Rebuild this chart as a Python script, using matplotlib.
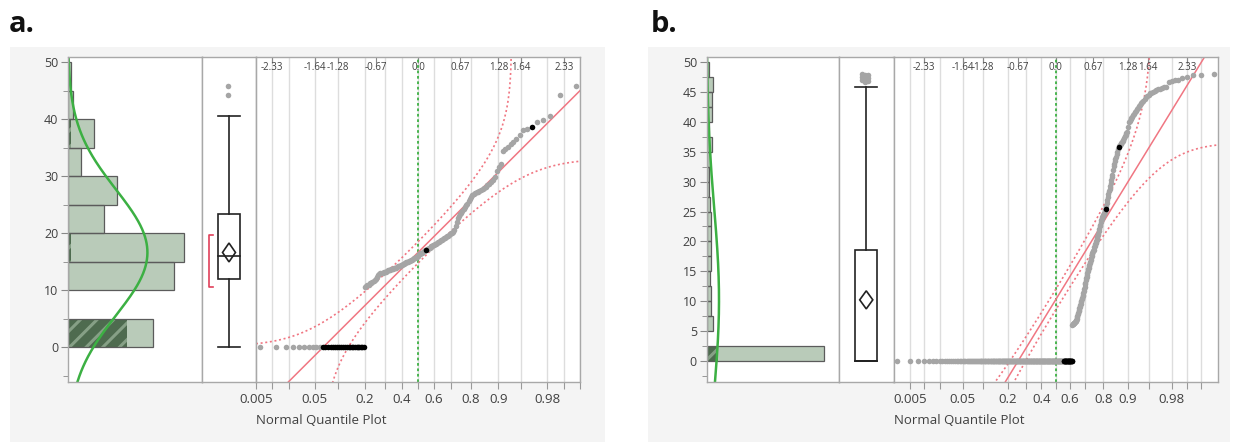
import matplotlib
matplotlib.use("Agg")
import matplotlib.pyplot as plt
from matplotlib.patches import Rectangle, Polygon
from statistics import NormalDist
import numpy as np

plt.rcParams["font.family"] = ["Open Sans", "DejaVu Sans"]
plt.rcParams["hatch.linewidth"] = 2.2

ND = NormalDist()

# ---- data ----------------------------------------------------------------
# panel a: 170 observations, 33 zeros then the sorted non-zero values
a_zero_count = 33
a_values_nonzero = [
    10.6, 10.7, 10.9, 11.0, 11.2, 11.3, 11.5, 11.6, 11.8, 12.0, 12.3, 12.6, 12.9,
    13.0, 13.1, 13.1, 13.2, 13.3, 13.3, 13.4, 13.5, 13.5, 13.6,
    13.7, 13.8, 13.8, 13.9, 14.0, 14.0, 14.1, 14.2, 14.3, 14.3, 14.4, 14.5, 14.6, 14.7,
    14.8, 14.8, 14.9, 14.9,
    15.0, 15.1, 15.2, 15.3, 15.4, 15.5, 15.6, 15.7, 15.8, 15.9, 16.0,
    16.1, 16.3, 16.4, 16.5, 16.6, 16.8, 16.9, 17.0, 17.1,
    17.2, 17.3, 17.4, 17.5, 17.6, 17.7, 17.8, 17.9, 18.0, 18.1, 18.2,
    18.3, 18.4, 18.5, 18.6, 18.8, 18.9, 19.0, 19.1, 19.2, 19.3, 19.5, 19.6,
    19.7, 19.8, 20.0, 20.1, 20.3, 20.5,
    21.2, 21.9, 22.6,
    23.0, 23.4, 23.6, 23.9, 24.2,
    24.6, 24.9, 25.2, 25.6, 26.0, 26.4, 26.7,
    26.9, 27.0, 27.2, 27.3, 27.5, 27.6, 27.8, 27.9, 28.1,
    28.4, 28.7, 29.0, 29.3,
    29.8, 31.0, 31.6, 32.2,
    34.4, 34.8, 35.2,
    35.6, 36.0, 36.5,
    37.2, 38.1, 38.3, 38.7,
    39.6, 39.9, 40.5, 44.2, 45.8,
]
# ranks (1-based, sorted order) of the highlighted rows
a_selected_ranks = list(range(11, 34)) + [94, 165]

# panel b: 400 observations, 246 zeros then the sorted non-zero values
b_zero_count = 246
b_values_nonzero = [
    6.0, 6.1, 6.1, 6.2, 6.3, 6.3, 6.4, 6.5, 6.5, 6.6, 6.7, 6.8,
    7.0, 7.3, 7.5, 7.8, 8.0, 8.3, 8.5, 8.8, 9.0,
    9.3, 9.5, 9.8, 10.0, 10.3, 10.5, 10.8, 11.0, 11.3,
    11.6, 12.0, 12.4, 12.8, 13.1, 13.5, 13.8, 14.1,
    14.4, 14.7, 15.0, 15.3, 15.5, 15.8, 16.0, 16.3,
    16.6, 16.9, 17.2, 17.5, 17.8, 18.1, 18.3, 18.4,
    18.6, 19.0, 19.3, 19.6, 19.8, 20.1, 20.3, 20.6, 20.8, 21.1, 21.3,
    21.7, 22.1, 22.5, 22.8, 23.2, 23.6,
    23.8, 24.0, 24.2, 24.4, 24.6, 24.8, 25.0, 25.2, 25.4,
    25.9, 26.4, 26.9, 27.4, 28.0,
    28.4, 28.8, 29.3, 29.7,
    30.2, 30.7, 31.2, 31.9, 32.6,
    33.0, 33.4, 33.8, 34.2,
    34.6, 35.0, 35.4, 35.8,
    36.0, 36.2, 36.3, 36.5, 36.7, 36.8, 37.0,
    37.3, 37.6, 37.8, 38.1, 38.4,
    39.2, 40.0,
    40.2, 40.5, 40.7, 40.9, 41.1, 41.3,
    41.6, 41.8, 42.1, 42.3, 42.6, 42.8,
    43.1, 43.4, 43.6, 43.9, 44.2,
    44.4, 44.6, 44.8, 44.9, 45.1,
    45.2, 45.4, 45.5, 45.6, 45.7, 45.8, 45.8,
    46.7, 46.8, 47.0, 47.1,
    47.3, 47.5,
    47.9, 47.9, 48.0,
]
b_selected_ranks = list(range(224, 247)) + [326, 348]

a_bin_width = 5
b_bin_width = 2.5

prob_grid = [0.005, 0.01, 0.02, 0.05, 0.1, 0.2, 0.3, 0.4, 0.5, 0.6, 0.7,
             0.8, 0.9, 0.95, 0.98, 0.99, 0.995]
prob_labels = [0.005, 0.05, 0.2, 0.4, 0.6, 0.8, 0.9, 0.98]
z_tick_labels = ["-2.33", "-1.64", "-1.28", "-0.67", "0.0", "0.67", "1.28", "1.64", "2.33"]

# ---- styling ---------------------------------------------------------------
W, H = 1238, 442
BAR = "#b9cbb9"
BAR_SEL = "#4e6b4f"
HATCH = "#86a086"
GREEN = "#3cb043"
RED = "#f07682"
GRAY_PT = "#a5a5a5"
SPINE = "#a8a8a8"
TXT = "#404040"

fig = plt.figure(figsize=(W / 100, H / 100), dpi=100)


def px_axes(x0, x1, y0, y1):
    return fig.add_axes([x0 / W, 1 - y1 / H, (x1 - x0) / W, (y1 - y0) / H])


def style_spines(ax):
    for s in ax.spines.values():
        s.set_color(SPINE)
        s.set_linewidth(1)


def draw_panel(zero_count, nonzero, sel_ranks, bw, xs, y0, y1, ylim,
               major, minor, hist_max, zlim, label, label_x, bg):
    data = np.array([0.0] * zero_count + list(nonzero))
    n = len(data)
    sel = np.zeros(n, bool)
    sel[np.array(sel_ranks) - 1] = True
    mean = data.mean()
    sd = data.std(ddof=1)

    fig.patches.append(Rectangle((bg[0] / W, 0), (bg[1] - bg[0]) / W, 1 - 47 / H,
                                 transform=fig.transFigure, facecolor="#f4f4f4",
                                 edgecolor="none", zorder=-10))
    fig.text(label_x / W, 1 - 32 / H, label, fontsize=21, fontweight="bold",
             va="baseline", color="#111111")

    # histogram column
    axh = px_axes(xs[0], xs[1], y0, y1)
    edges = np.arange(0, 50 + bw / 2, bw)
    counts, _ = np.histogram(data, edges)
    counts_sel, _ = np.histogram(data[sel], edges)
    keep = counts > 0
    axh.barh(edges[:-1][keep], counts[keep], height=bw, align="edge",
             color=BAR, edgecolor="none")
    ks = counts_sel > 0
    axh.barh(edges[:-1][ks], counts_sel[ks], height=bw, align="edge",
             color=BAR_SEL, hatch="//", edgecolor=HATCH, linewidth=0)
    axh.barh(edges[:-1][keep], counts[keep], height=bw, align="edge",
             fill=False, edgecolor="#5b5b5b", linewidth=0.9)
    yy = np.linspace(ylim[0], ylim[1], 400)
    fit = NormalDist(mean, sd)
    axh.plot([n * bw * fit.pdf(v) for v in yy], yy, color=GREEN, lw=1.8)
    axh.set_xlim(0, hist_max)
    axh.set_ylim(ylim)
    axh.set_xticks([])
    axh.set_yticks(major)
    axh.set_yticks(minor, minor=True)
    axh.tick_params(axis="y", which="major", length=5, color="#888888",
                    labelsize=9, labelcolor=TXT, pad=2)
    axh.tick_params(axis="y", which="minor", length=3.5, color="#888888")
    style_spines(axh)

    # box plot column
    axb = px_axes(xs[1], xs[2], y0, y1)
    q1, med, q3 = np.percentile(data, [25, 50, 75], method="weibull")
    iqr = q3 - q1
    whi = data[data <= q3 + 1.5 * iqr].max()
    wlo = data[data >= q1 - 1.5 * iqr].min()
    fliers = data[(data > whi) | (data < wlo)]
    hw = 0.2
    kw = dict(color="#222222", lw=1.2)
    axb.plot([0.5, 0.5], [wlo, q1], **kw)
    axb.plot([0.5, 0.5], [q3, whi], **kw)
    axb.plot([0.5 - hw, 0.5 + hw], [wlo, wlo], **kw)
    axb.plot([0.5 - hw, 0.5 + hw], [whi, whi], **kw)
    axb.add_patch(Rectangle((0.5 - hw, q1), 2 * hw, q3 - q1, facecolor="white",
                            edgecolor="#222222", lw=1.2))
    axb.plot([0.5 - hw, 0.5 + hw], [med, med], **kw)
    ci = 1.96 * sd / np.sqrt(n)
    axb.add_patch(Polygon([(0.5 - 0.12, mean), (0.5, mean + ci), (0.5 + 0.12, mean),
                           (0.5, mean - ci)], closed=True, fill=False,
                          edgecolor="#222222", lw=1.2))
    k = len(fliers)
    jit = 0.07 * np.sin(np.arange(k) * 2.1) if k > 2 else np.zeros(k)
    axb.plot(0.48 + jit, fliers, "o", ms=4, color=GRAY_PT, mec="none")
    # shortest half bracket
    srt = np.sort(data)
    h = n // 2
    widths = srt[h - 1:] - srt[:n - h + 1]
    j = int(np.argmin(widths))
    lo, hi = srt[j], srt[j + h - 1]
    if hi > lo:
        axb.plot([0.2, 0.135, 0.135, 0.2], [lo, lo, hi, hi], color="#e0405a", lw=1.2)
    axb.set_xlim(0, 1)
    axb.set_ylim(ylim)
    axb.set_xticks([])
    axb.set_yticks([])
    style_spines(axb)

    # normal quantile column
    axq = px_axes(xs[2], xs[3], y0, y1)
    z = np.array([ND.inv_cdf(r / (n + 1)) for r in range(1, n + 1)])
    srt_idx = np.argsort(data, kind="stable")
    vals = data[srt_idx]
    for p in prob_grid:
        axq.axvline(ND.inv_cdf(p), color="#dddddd", lw=1, zorder=0)
    axq.axvline(0, color=GREEN, ls=(0, (1.5, 1.5)), lw=1.3, zorder=1)
    zz = np.linspace(zlim[0], zlim[1], 600)
    axq.plot(zz, mean + sd * zz, color=RED, lw=1.1, zorder=2)
    D = 0.886 / np.sqrt(n)
    pz = np.array([ND.cdf(v) for v in zz])
    up = pz + D < 1
    axq.plot(zz[up], [mean + sd * ND.inv_cdf(p + D) for p in pz[up]],
             color=RED, ls=(0, (1.2, 1.6)), lw=1.2, zorder=2)
    dn = pz - D > 0
    axq.plot(zz[dn], [mean + sd * ND.inv_cdf(p - D) for p in pz[dn]],
             color=RED, ls=(0, (1.2, 1.6)), lw=1.2, zorder=2)
    s_sorted = sel[srt_idx]
    axq.plot(z[~s_sorted], vals[~s_sorted], "o", ms=4, color=GRAY_PT, mec="none", zorder=3)
    axq.plot(z[s_sorted], vals[s_sorted], "o", ms=4, color="black", mec="none", zorder=4)
    axq.set_xlim(zlim)
    axq.set_ylim(ylim)
    axq.set_yticks([])
    axq.set_xticks([ND.inv_cdf(p) for p in prob_grid])
    axq.set_xticklabels([str(p) if p in prob_labels else "" for p in prob_grid])
    axq.tick_params(axis="x", length=5, color="#999999", labelsize=9.5,
                    labelcolor=TXT, pad=3)
    top = axq.secondary_xaxis("top")
    top.set_xticks([float(t) for t in z_tick_labels])
    top.set_xticklabels([])
    top.tick_params(direction="in", length=4, color="#888888")
    top.spines["top"].set_visible(False)
    ytxt = 1 - 11.2 / (y1 - y0)
    for t in z_tick_labels:
        axq.text(float(t), ytxt, t, transform=axq.get_xaxis_transform(),
                 ha="center", va="center", fontsize=7, color=TXT,
                 family=["Liberation Sans Narrow", "Open Sans"])
    style_spines(axq)
    fig.text(xs[2] / W, 1 - 424 / H, "Normal Quantile Plot", fontsize=9.5,
             color=TXT, va="baseline")


draw_panel(a_zero_count, a_values_nonzero, a_selected_ranks, a_bin_width,
           xs=(68, 202, 256, 580), y0=56.7, y1=381.7, ylim=(-6.03, 50.98),
           major=[0, 10, 20, 30, 40, 50], minor=[-5, 5, 15, 25, 35, 45],
           hist_max=52, zlim=(-2.58, 2.58), label="a.", label_x=9, bg=(10, 605))
draw_panel(b_zero_count, b_values_nonzero, b_selected_ranks, b_bin_width,
           xs=(706.7, 839, 893.5, 1217.7), y0=56.7, y1=381.7, ylim=(-3.52, 50.94),
           major=list(range(0, 51, 5)), minor=[-2.5 + 5 * i for i in range(11)],
           hist_max=278, zlim=(-2.87, 2.87), label="b.", label_x=651, bg=(648, 1230))

fig.savefig("out.png", dpi=100)
